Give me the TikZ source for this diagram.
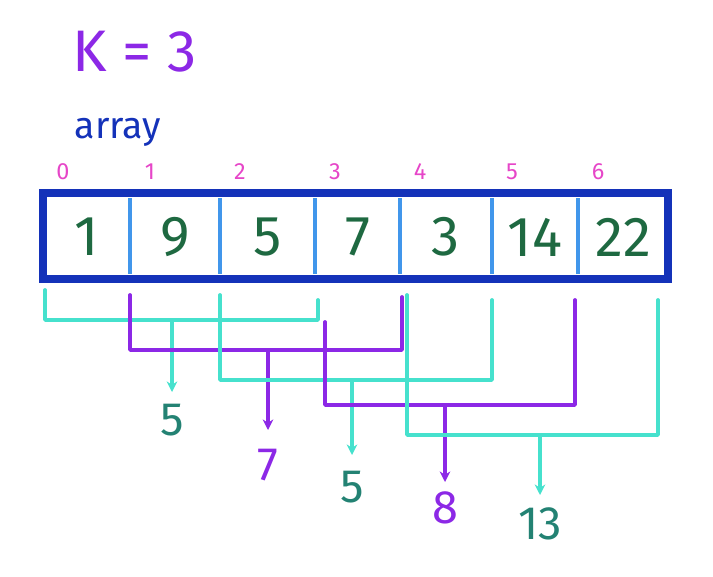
\documentclass[tikz,border=0pt]{standalone}
\usepackage{fontspec}
\setmainfont{Fira Sans}
\usetikzlibrary{arrows.meta}
\definecolor{kpurple}{RGB}{140,40,230}
\definecolor{kteal}{RGB}{70,225,205}
\definecolor{kgreen}{RGB}{30,105,65}
\definecolor{kdark}{RGB}{35,130,115}
\definecolor{kblue}{RGB}{20,50,185}
\definecolor{ksep}{RGB}{65,150,235}
\definecolor{kpink}{RGB}{230,70,200}
\tikzset{
  every node/.style={inner sep=0pt},
  cellnum/.style={text=kgreen, font=\fontsize{48}{48}\selectfont},
  idx/.style={text=kpink, font=\fontsize{20}{20}\selectfont},
  result/.style={font=\fontsize{40}{40}\selectfont},
  win/.style={line width=3.2pt, line join=round, line cap=round}
}
\begin{document}
\begin{tikzpicture}[x=0.03cm, y=-0.03cm]
    \useasboundingbox (0,0) rectangle (713,576);

    \node[text=kpurple, font=\fontsize{50}{50}\selectfont] (k) at (135,52) {K = 3};
    \node[text=kblue, font=\fontsize{32}{32}\selectfont] (arr) at (118,132) {array};

    % cells
    \foreach \i/\v/\xa/\xb in {0/1/43/130, 1/9/130/220, 2/5/220/315, 3/7/315/400,
                               4/3/400/492, 5/14/492/578, 6/22/578/668} {
      \coordinate (c\i) at (\xa,0);
      \node[cellnum] (v\i) at ({(\xa+\xb)/2},237) {\v};
      \node[idx] (i\i) at ({\xa+20},172) {\i};
    }
    \foreach \x in {130,220,315,400,492,578}
      \draw[ksep, line width=3pt] (\x,198) -- (\x,274);
    \draw[kblue, line width=6pt] (43,193) rectangle (668,279);

    % windows
    \foreach \n/\col/\xl/\yl/\xr/\yr/\yh/\xa/\ya/\res/\rcol/\ry in {
        1/kteal/45/290/318/300/320/172/392/5/kdark/420,
        2/kpurple/130/295/402/297/350/268/430/7/kpurple/465,
        3/kteal/220/295/492/300/380/352/455/5/kdark/487,
        4/kpurple/325/322/575/300/405/445/482/8/kpurple/508,
        5/kteal/407/295/658/300/435/540/495/13/kdark/524} {
      \coordinate (l\n) at (\xl,\yl);
      \coordinate (r\n) at (\xr,\yr);
      \coordinate (m\n) at (\xa,\yh);
      \coordinate (e\n) at (\xa,\ya);
      \draw[win, \col] (l\n) |- (\xr,\yh) -- (r\n);
      \draw[win, \col, -{Stealth[length=9pt,width=9pt]}] (m\n) -- (e\n);
      \node[result, text=\rcol] (s\n) at (\xa,\ry) {\res};
    }
\end{tikzpicture}
\end{document}
